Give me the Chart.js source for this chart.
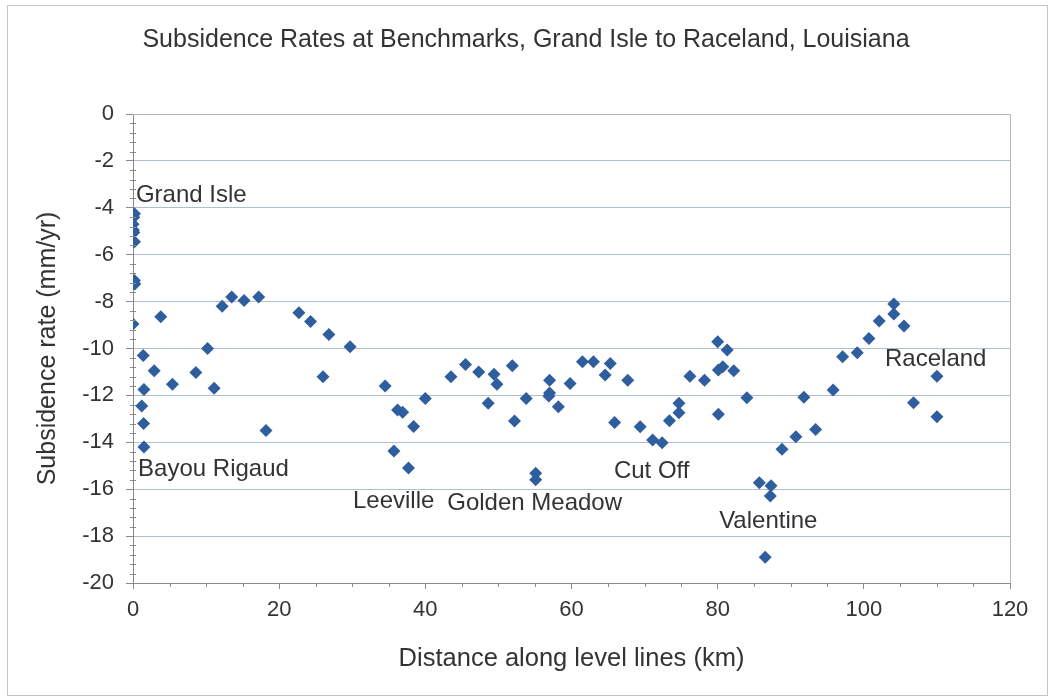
<!DOCTYPE html>
<html>
<head>
<meta charset="utf-8">
<script src="https://cdn.jsdelivr.net/npm/chart.js@4.4.1/dist/chart.umd.min.js"></script>
<style>
  html, body { margin: 0; padding: 0; background: #fff; }
  #wrap { width: 1052px; height: 698px; }
</style>
</head>
<body>
<div id="wrap"><canvas id="chart" width="1052" height="698"></canvas></div>
<script>
// Subsidence rates at benchmarks.
const distanceKm = [
  0.2, 0.1, 0.0, 0.05, 0.1, 0.2, 0.2, 0.25, 0.0,
  3.8, 1.4, 2.9, 1.5, 1.2, 1.45, 1.5, 5.4, 8.6, 10.2, 11.1,
  12.2, 13.5, 15.2, 17.2, 18.2, 22.7, 24.3, 26.8, 26.0, 29.7,
  34.5, 36.2, 36.9, 38.4, 40.0, 35.7, 37.7, 43.5, 45.5, 47.3,
  49.4, 49.8, 48.6, 51.9, 52.2, 53.8, 55.1, 55.1, 57.0, 57.0,
  56.9, 58.2, 59.8, 61.5, 63.0, 65.3, 64.6, 65.9, 67.7, 69.4,
  71.1, 72.4, 73.4, 74.7, 74.7, 76.2, 78.2, 80.0, 81.3, 80.1,
  80.7, 82.2, 80.1, 84.0, 85.7, 87.3, 87.2, 86.5, 88.8, 90.7,
  93.4, 91.8, 95.8, 97.1, 99.1, 100.7, 102.1, 104.1, 104.1, 105.5,
  106.8, 110.0, 110.0
];
const rateMmYr = [
  -4.25, -4.4, -4.7, -4.95, -5.05, -5.45, -7.1, -7.25, -8.95,
  -8.65, -10.3, -10.95, -11.75, -12.45, -13.2, -14.2, -11.52, -11.02, -10.0, -11.7,
  -8.2, -7.8, -7.95, -7.8, -13.5, -8.48, -8.85, -9.4, -11.2, -9.93,
  -11.6, -12.62, -12.72, -13.33, -12.13, -14.37, -15.1, -11.2, -10.68, -11.0,
  -11.1, -11.52, -12.34, -10.74, -13.09, -12.13, -15.32, -15.6, -11.35, -11.9,
  -12.03, -12.48, -11.49, -10.56, -10.56, -10.64, -11.13, -13.16, -11.35, -13.34,
  -13.9, -14.02, -13.08, -12.34, -12.74, -11.18, -11.35, -9.71, -10.06, -10.92,
  -10.78, -10.95, -12.8, -12.1, -15.72, -15.85, -16.29, -18.9, -14.3, -13.76,
  -13.45, -12.08, -11.77, -10.35, -10.18, -9.57, -8.83, -8.1, -8.53, -9.04,
  -12.31, -11.18, -12.91
];

// Place names written on the plot, anchored at their left edge in data units.
const placeNames = ['Grand Isle', 'Bayou Rigaud', 'Leeville', 'Golden Meadow', 'Cut Off', 'Valentine', 'Raceland'];
const placeKm    = [0.4, 0.7, 30.1, 43.0, 65.8, 80.2, 102.9];
const placeRate  = [-3.45, -15.14, -16.53, -16.6, -15.22, -17.36, -10.45];

const xTicks = [0, 20, 40, 60, 80, 100, 120];
const yTicks = [0, -2, -4, -6, -8, -10, -12, -14, -16, -18, -20];

const FONT = "'Liberation Sans', Arial, sans-serif";
const textColor = '#333333';
const axisColor = '#8a8a8a';
const gridColor = '#b3bdd0';
const markerColor = '#2f5e9e';

const points = distanceKm.map((x, i) => ({ x, y: rateMmYr[i] }));

// Рамка, мелкие деления осей и подписи населённых пунктов.
const decorations = {
  id: 'decorations',
  beforeDraw(chart) {
    const ctx = chart.ctx;
    ctx.save();
    ctx.fillStyle = '#fff';
    ctx.fillRect(0, 0, chart.width, chart.height);
    ctx.strokeStyle = '#c4c4c4';
    ctx.lineWidth = 1;
    ctx.strokeRect(7.5, 5.5, chart.width - 12, chart.height - 8);
    ctx.restore();
  },
  afterDraw(chart) {
    const ctx = chart.ctx;
    const { x, y } = chart.scales;
    const a = chart.chartArea;
    ctx.save();
    // top and right edge of the plot area
    ctx.strokeStyle = '#b0b6c4';
    ctx.lineWidth = 1;
    ctx.beginPath();
    ctx.moveTo(a.left, Math.round(a.top) + 0.5);
    ctx.lineTo(Math.round(a.right) + 0.5, Math.round(a.top) + 0.5);
    ctx.lineTo(Math.round(a.right) + 0.5, a.bottom);
    ctx.stroke();
    // minor ticks
    ctx.strokeStyle = axisColor;
    ctx.beginPath();
    for (let v = 5; v < 120; v += 5) {
      if (v % 20 === 0) continue;
      const px = Math.round(x.getPixelForValue(v)) + 0.5;
      ctx.moveTo(px, a.bottom);
      ctx.lineTo(px, a.bottom + 4);
    }
    for (let k = 1; k < 50; k++) {
      if (k % 5 === 0) continue;
      const py = Math.round(y.getPixelForValue(-k * 0.4)) + 0.5;
      ctx.moveTo(a.left - 3, py);
      ctx.lineTo(a.left + 3, py);
    }
    ctx.stroke();
    // place names
    ctx.fillStyle = textColor;
    ctx.font = '24px ' + FONT;
    ctx.textAlign = 'left';
    ctx.textBaseline = 'middle';
    placeNames.forEach((name, i) => {
      ctx.fillText(name, x.getPixelForValue(placeKm[i]), y.getPixelForValue(placeRate[i]));
    });
    ctx.restore();
  }
};

new Chart(document.getElementById('chart'), {
  type: 'scatter',
  data: {
    datasets: [{
      data: points,
      pointStyle: 'rectRot',
      pointRadius: 6.5,
      backgroundColor: markerColor,
      borderColor: markerColor,
      borderWidth: 0,
    }]
  },
  options: {
    responsive: false,
    animation: false,
    layout: { padding: 0 },
    plugins: {
      legend: { display: false },
      tooltip: { enabled: false },
      title: {
        display: true,
        text: 'Subsidence Rates at Benchmarks, Grand Isle to Raceland, Louisiana',
        color: textColor,
        font: { family: FONT, size: 25, weight: 'normal', lineHeight: 1.2 },
        padding: { top: 25, bottom: 59 },
      },
    },
    scales: {
      x: {
        type: 'linear',
        min: 0,
        max: 120,
        afterBuildTicks: (s) => { s.ticks = xTicks.map(v => ({ value: v })); },
        afterFit: (s) => { s.height = 115; },
        ticks: { color: textColor, font: { family: FONT, size: 22 }, padding: 8, maxRotation: 0 },
        grid: { drawOnChartArea: false, tickLength: 6, color: axisColor },
        border: { color: axisColor },
        title: {
          display: true,
          text: 'Distance along level lines (km)',
          color: textColor,
          font: { family: FONT, size: 25.5, lineHeight: 1.2 },
          padding: { top: 0, bottom: 24 },
        },
      },
      y: {
        min: -20,
        max: 0,
        afterBuildTicks: (s) => { s.ticks = yTicks.map(v => ({ value: v })); },
        afterFit: (s) => { s.width = 133; },
        ticks: { color: textColor, font: { family: FONT, size: 22 }, padding: 12 },
        grid: { color: gridColor, tickLength: 7, tickColor: axisColor },
        border: { color: axisColor },
        title: {
          display: true,
          text: 'Subsidence rate (mm/yr)',
          color: textColor,
          font: { family: FONT, size: 25, lineHeight: 1.2 },
          padding: { top: 33, bottom: 0 },
        },
      },
      // empty right-hand margin so the title stays centred on the whole figure
      yRight: {
        position: 'right',
        min: -20,
        max: 0,
        ticks: { display: false },
        grid: { display: false },
        border: { display: false },
        afterFit: (s) => { s.width = 42; },
      },
    },
  },
  plugins: [decorations],
});
</script>
</body>
</html>
